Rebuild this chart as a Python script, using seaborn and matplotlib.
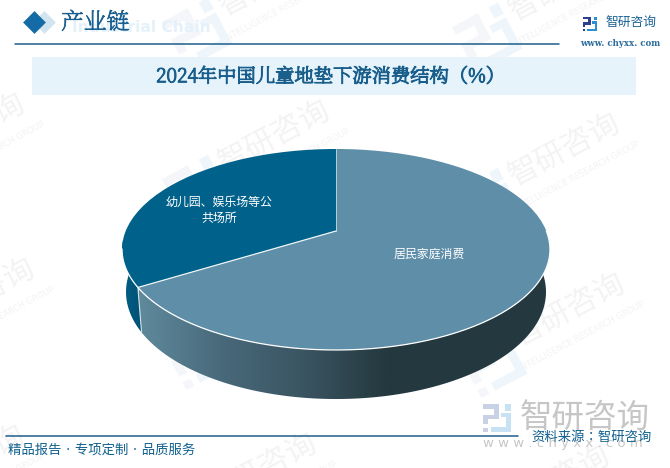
import glob

import matplotlib
matplotlib.use('Agg')
import matplotlib.patheffects as pe
import matplotlib.pyplot as plt
import numpy as np
import seaborn as sns
from matplotlib.colors import LinearSegmentedColormap
from matplotlib.font_manager import FontProperties
from matplotlib.patches import PathPatch, Polygon, Rectangle
from matplotlib.path import Path
from matplotlib.transforms import Affine2D

# data
categories = ['幼儿园、娱乐场等公\n共场所', '居民家庭消费']
shares = [33.8, 66.2]

title = '2024年中国儿童地垫下游消费结构（%）'
footer_left = '精品报告 · 专项定制 · 品质服务'
footer_right = '资料来源：智研咨询'

# matplotlib does not index the ttc faces here, so go through the files
regular = FontProperties(fname='/usr/share/fonts/opentype/noto/NotoSansCJK-Regular.ttc')
bold = FontProperties(fname='/usr/share/fonts/opentype/noto/NotoSansCJK-Bold.ttc')
serif_files = glob.glob('/usr/share/fonts/truetype/google-fonts/NotoSerifSC*')
serif = FontProperties(fname=serif_files[0]) if serif_files else None
blue = '#1B5E8B'

sns.set_theme(style='white')
top_colors = ['#00618A', '#5E8EA8']

fig = plt.figure(figsize=(6.7, 4.68), dpi=100, facecolor='white')
ax = fig.add_axes([0, 0, 1, 1])

# the pie itself, flat first, tilted below
RADIUS = 200
wedges, _ = ax.pie(shares, colors=top_colors, startangle=90, radius=RADIUS)
ax.set_aspect('auto')
ax.set_xlim(0, 670)
ax.set_ylim(468, 0)
ax.axis('off')

TILT = 0.184


def top_disc(u, v):
    # perspective view of the unit disc, apex sits above the ellipse centre
    d = 1 + TILT * v
    return 336 + 210.3 * u / d, (231 - 54.6 * v) / d


def low_disc(u, v):
    d = 1 + TILT * v
    return 336 + 206.4 * u / d, (272.3 - 53.3 * v) / d


def logo(x, y, size, angle, c1, c2, z=1):
    tr = Affine2D().scale(size).rotate_deg(angle).translate(x, y) + ax.transData
    for r in [(0, 0, .56, .17), (.39, 0, .17, .55), (0, .38, .56, .17), (0, .38, .17, .33), (0, .84, .17, .16)]:
        ax.add_patch(Rectangle(r[:2], r[2], r[3], fc=c1, ec='none', transform=tr, zorder=z))
    for r in [(.8, 0, .2, .24), (.83, .32, .17, .68), (.3, .83, .7, .17), (.64, .32, .19, .15)]:
        ax.add_patch(Rectangle(r[:2], r[2], r[3], fc=c2, ec='none', transform=tr, zorder=z))


def watermark(x, y):
    # x, y is the centre of the four characters
    a = np.deg2rad(28)
    ax.text(x, y, '智研咨询', fontproperties=regular, fontsize=22, color='#F3F3F3', rotation=28, ha='center',
            va='center', rotation_mode='anchor', zorder=0.5)
    ax.text(x + 12, y + 27, 'INTELLIGENCE RESEARCH GROUP', fontsize=6, color='#F3F3F3', rotation=28,
            ha='center', va='center', rotation_mode='anchor', zorder=0.5)
    logo(x - 128 * np.cos(a), y + 128 * np.sin(a) - 18, 52, -28, '#F4F6F9', '#EEF6FB', z=0.5)


for wx, wy in [(565, 150), (275, 137), (-30, 130), (565, -15), (275, -20), (570, 310), (275, 302),
               (-20, 295), (262, 470), (-30, 462), (555, 482)]:
    watermark(wx, wy)

# header
ax.add_patch(Rectangle((32, 57), 604, 38, fc='#E6F3FB', ec='none', zorder=1))
ax.plot([15, 559], [43.5, 43.5], color=blue, lw=1.1, zorder=2)
ax.scatter([44], [22], marker='D', s=135, color='#D2E4EF', linewidths=0, zorder=2)
ax.scatter([33.5], [22], marker='D', s=135, color='#156BA6', linewidths=0, zorder=3)
ax.text(72, 27.5, 'Industrial Chain', fontsize=11.2, fontweight='bold', color='#E4F1FA', va='center', zorder=2)
head_font = serif if serif else regular
ax.text(61, 23, '产业链', fontproperties=head_font, fontsize=16.4, color='#1A5F92', va='center', zorder=3,
        path_effects=[pe.withStroke(linewidth=0.5, foreground='#1A5F92')])
ax.text(330, 77, title, fontproperties=serif if serif else bold, fontsize=13.9, color='#1A5F8C', ha='center',
        va='center', zorder=3, path_effects=[pe.withStroke(linewidth=0.8, foreground='#1A5F8C')] if serif else None)

# top right logo
logo(583, 17, 14, 0, '#2B3F8F', '#2E8FD0', z=3)
ax.text(606, 23, '智研咨询', fontproperties=regular, fontsize=9.2, color='#1A6396', va='center', zorder=3)
ax.text(620.5, 44, 'www. chyxx. com', fontsize=6.2, fontweight='bold', color='#2E6E9E', ha='center', va='center',
        family='DejaVu Serif', zorder=3)

# side wall, split where the slice boundary meets the rim
split = np.deg2rad(90 + shares[0] / sum(shares) * 360)
t_dark = np.linspace(np.pi, split, 30)
t_main = np.linspace(split, 2 * np.pi, 200)


def wall(t):
    return np.r_[np.c_[top_disc(np.cos(t), np.sin(t))], np.c_[low_disc(np.cos(t), np.sin(t))][::-1]]


wall_cmap = LinearSegmentedColormap.from_list('wall', ['#5F8A9C', '#48697A', '#3A5462', '#24393F', '#23383F'])
dark_cmap = LinearSegmentedColormap.from_list('dark', ['#00618A', '#004F70'])
grad = np.linspace(0, 1, 256).reshape(1, -1)
for t, cmap, ext in [(t_main, wall_cmap, (139, 470, 400, 240)), (t_dark, dark_cmap, (120, 145, 340, 240))]:
    im = ax.imshow(grad, cmap=cmap, extent=ext, aspect='auto', zorder=3)
    clip = Polygon(wall(t), closed=True, transform=ax.transData, fc='none', ec='none')
    ax.add_patch(clip)
    im.set_clip_path(clip)

# right hand part of the wall past the gradient end
im = ax.imshow(np.array([[0.0, 0.0]]), cmap=LinearSegmentedColormap.from_list('r', ['#23383F', '#23383F']),
               extent=(470, 552, 400, 240), aspect='auto', zorder=3)
clip = Polygon(wall(t_main), closed=True, transform=ax.transData, fc='none', ec='none')
ax.add_patch(clip)
im.set_clip_path(clip)
ax.set_xlim(0, 670)
ax.set_ylim(468, 0)

# tilt the pie wedges
for w, col in zip(wedges, top_colors):
    poly = w.get_path().to_polygons()[0] / RADIUS
    px, py = top_disc(poly[:, 0], poly[:, 1])
    w.remove()
    ax.add_patch(PathPatch(Path(np.c_[px, py]), fc=col, ec='none', zorder=4))

# thin white seams
sx, sy = np.cos(split), np.sin(split)
ax.plot(*top_disc(np.array([0, 0]), np.array([0, 1])), color='#B9CDD8', lw=0.7, zorder=5)
tx, ty = top_disc(np.array([sx, 0]), np.array([sy, 0]))
ax.plot(tx, ty, color='white', lw=0.9, alpha=0.9, zorder=5)
rim = np.linspace(np.pi + 0.18, 2 * np.pi, 200)
ax.plot(*top_disc(np.cos(rim), np.sin(rim)), color='white', lw=0.9, zorder=5)
ax.plot([top_disc(sx, sy)[0], low_disc(sx, sy)[0]], [top_disc(sx, sy)[1], low_disc(sx, sy)[1]],
        color='#D5E2E8', lw=0.8, zorder=5)

ax.text(219, 210.5, categories[0], fontproperties=regular, fontsize=8.6, color='white', ha='center', va='center',
        linespacing=1.3, zorder=6)
ax.text(429, 254, categories[1], fontproperties=regular, fontsize=8.6, color='white', ha='center', va='center',
        zorder=6)

# footer
logo(483, 404, 28, 0, '#C9D1E5', '#C6E2F3', z=2)
ax.text(585, 418, '智研咨询', fontproperties=regular, fontsize=23.4, color='#C6C6C6', ha='center', va='center',
        zorder=2)
ax.text(563, 443, 'w w w . c h y x x . c o m', fontsize=9.5, color='#C6C6C6', ha='center', va='center', zorder=2)
ax.plot([6, 518], [435.5, 435.5], color=blue, lw=1.1, zorder=3)
ax.text(8, 450, footer_left, fontproperties=regular, fontsize=9.6, color='#10608F', va='center', zorder=3)
ax.text(652, 437, footer_right, fontproperties=regular, fontsize=9.6, color='#10608F', ha='right', va='center',
        zorder=3)

fig.savefig('out.png', dpi=100)
